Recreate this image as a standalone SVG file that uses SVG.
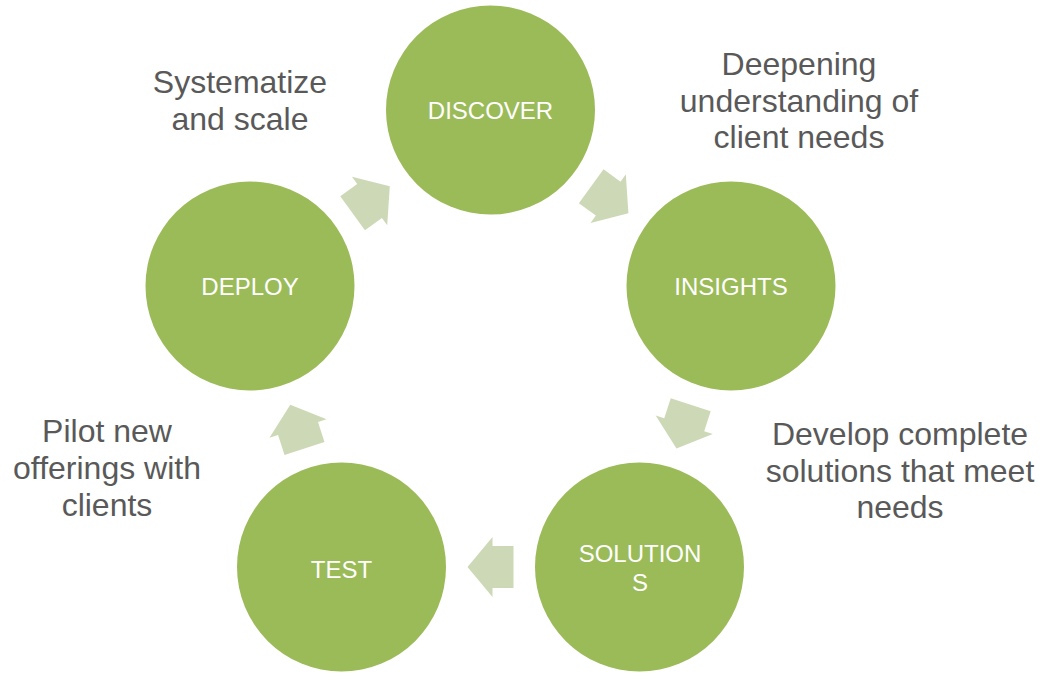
<svg xmlns="http://www.w3.org/2000/svg" width="1041" height="675" viewBox="0 0 1041 675">
<style>
.node{fill:#9BBB59}
.nt{fill:#ffffff;font-family:"Liberation Sans",Arial,sans-serif;font-size:24px;text-anchor:middle}
.lbl{fill:#595959;font-family:"Liberation Sans",Arial,sans-serif;font-size:32px;text-anchor:middle}
.arr{fill:#CDD9B6}
</style>
<defs>
<path id="ar" d="M -23,-21 L -2,-21 L -2,-30 L 23,0 L -2,30 L -2,21 L -23,21 Z"/>
</defs>
<rect width="1041" height="675" fill="#ffffff"/>
<g id="connectors">
<use href="#ar" class="arr" transform="translate(609.8,199.8) rotate(36)"/>
<use href="#ar" class="arr" transform="translate(683.6,426.7) rotate(108)"/>
<use href="#ar" class="arr" transform="translate(490.5,567) rotate(180)"/>
<use href="#ar" class="arr" transform="translate(297.4,426.7) rotate(252)"/>
<use href="#ar" class="arr" transform="translate(371.2,199.8) rotate(324)"/>
</g>
<g id="discover">
<circle class="node" cx="490.5" cy="110" r="104.5"/>
<text class="nt" x="490.5" y="119">DISCOVER</text>
</g>
<g id="insights">
<circle class="node" cx="731" cy="286" r="104.5"/>
<text class="nt" x="731" y="295">INSIGHTS</text>
</g>
<g id="solutions">
<circle class="node" cx="639.5" cy="567" r="104.5"/>
<text class="nt" x="640" y="562">SOLUTION</text>
<text class="nt" x="640" y="591">S</text>
</g>
<g id="test">
<circle class="node" cx="341.5" cy="567" r="104.5"/>
<text class="nt" x="341.5" y="578">TEST</text>
</g>
<g id="deploy">
<circle class="node" cx="250" cy="286" r="104.5"/>
<text class="nt" x="250" y="295">DEPLOY</text>
</g>
<g id="label-systematize">
<text class="lbl" x="240" y="93">Systematize</text>
<text class="lbl" x="240" y="130">and scale</text>
</g>
<g id="label-deepening">
<text class="lbl" x="799" y="75">Deepening</text>
<text class="lbl" x="799" y="112">understanding of</text>
<text class="lbl" x="799" y="148">client needs</text>
</g>
<g id="label-develop">
<text class="lbl" x="900" y="445">Develop complete</text>
<text class="lbl" x="900" y="482">solutions that meet</text>
<text class="lbl" x="900" y="518">needs</text>
</g>
<g id="label-pilot">
<text class="lbl" x="107" y="442">Pilot new</text>
<text class="lbl" x="107" y="479">offerings with</text>
<text class="lbl" x="107" y="516">clients</text>
</g>
</svg>
